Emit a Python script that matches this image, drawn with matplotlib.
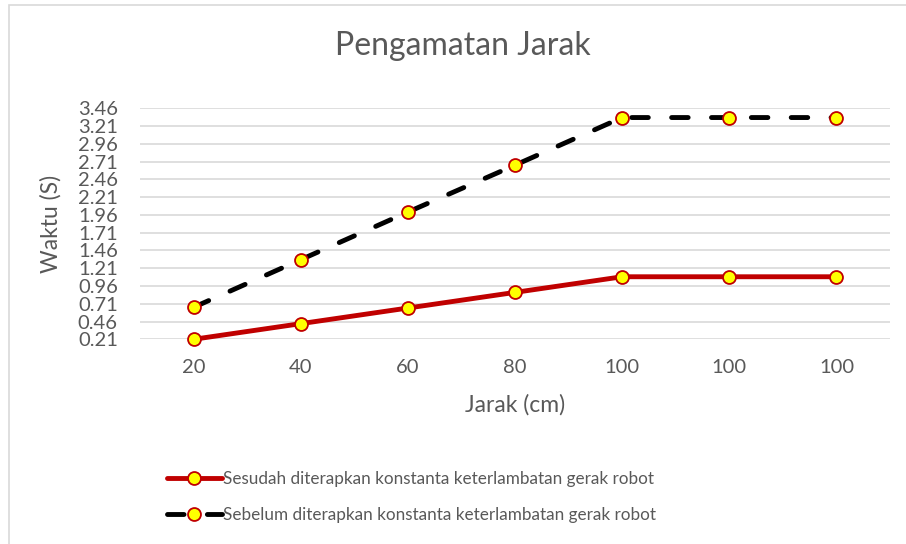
import matplotlib.pyplot as plt
from matplotlib.patches import Rectangle

# data
jarak = ['20', '40', '60', '80', '100', '100', '100']
sesudah = [0.21, 0.43, 0.65, 0.87, 1.09, 1.09, 1.09]
sebelum = [0.66, 1.33, 2.00, 2.66, 3.33, 3.33, 3.33]
yticks = [0.21, 0.46, 0.71, 0.96, 1.21, 1.46, 1.71, 1.96, 2.21, 2.46, 2.71, 2.96, 3.21, 3.46]

GREY = '#595959'
plt.rcParams['font.family'] = ['Lato', 'DejaVu Sans']

fig = plt.figure(figsize=(9.06, 5.44), dpi=100)
fig.patches.append(Rectangle((9 / 906, -0.1), 1.2, 1 - 5 / 544 + 0.1, transform=fig.transFigure,
                             fill=False, edgecolor='#D9D9D9', linewidth=1.2))

ax = fig.add_axes([140 / 906, 1 - 339.3 / 544, 750 / 906, 231 / 544])
x = list(range(len(jarak)))

ax.plot(x, sesudah, color='#C00000', lw=3.5, marker='o', ms=9.3, mfc='#FFFF00', mec='#C00000',
        mew=1.3, solid_capstyle='round', zorder=3,
        label='Sesudah diterapkan konstanta keterlambatan gerak robot')
ax.plot(x, sebelum, color='black', lw=3.5, ls=(0, (3.4, 4.8)), dash_capstyle='round', marker='o',
        ms=9.3, mfc='#FFFF00', mec='#C00000', mew=1.3, zorder=3,
        label='Sebelum diterapkan konstanta keterlambatan gerak robot')

ax.set_xlim(-0.5, len(jarak) - 0.5)
ax.set_ylim(0.21, 3.46)
ax.set_xticks(x)
ax.set_xticklabels(jarak)
ax.set_yticks(yticks)
ax.set_yticklabels(['{:.2f}'.format(v) for v in yticks])
for line in ax.lines:
    line.set_clip_on(False)

ax.grid(axis='y', color='#D9D9D9', lw=1.2)
ax.set_axisbelow(True)
for s in ax.spines.values():
    s.set_visible(False)
ax.tick_params(length=0, labelsize=14.5, labelcolor=GREY)
ax.tick_params(axis='x', pad=14)
ax.tick_params(axis='y', pad=16)

ax.set_xlabel('Jarak (cm)', fontsize=16.5, color=GREY, labelpad=13)
ax.set_ylabel('Waktu (S)', fontsize=16.5, color=GREY, labelpad=12)

fig.text(463 / 906, 1 - 46 / 544, 'Pengamatan Jarak', ha='center', va='center', fontsize=23,
         color=GREY)

fig.legend(loc='upper left', bbox_to_anchor=(160 / 906, 1 - 464 / 544), frameon=False,
           fontsize=12.3, labelcolor=GREY, handlelength=3.2, handletextpad=0.1, labelspacing=1.2,
           borderaxespad=0)

fig.savefig('out.png', dpi=100)
